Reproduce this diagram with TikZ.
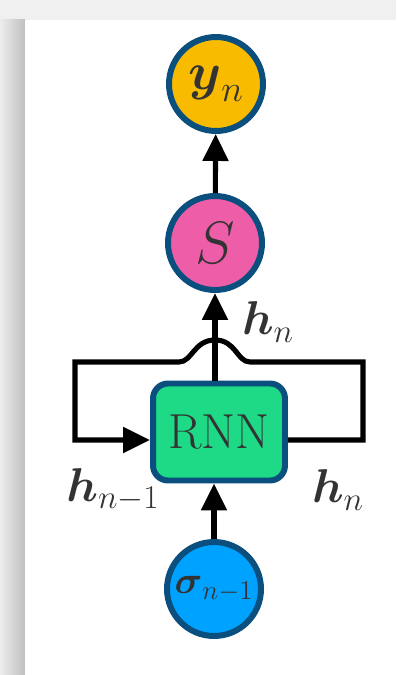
\RequirePackage{fix-cm}
\documentclass[tikz,border=0pt]{standalone}
\usepackage{amsmath}
\usepackage{amssymb}
\usepackage{tikz}
\usetikzlibrary {positioning}
\usetikzlibrary {arrows.meta}

\definecolor{rim}{HTML}{0B4F7F}
\definecolor{outyellow}{HTML}{F8BB00}
\definecolor{softpink}{HTML}{EE5DA8}
\definecolor{cellgreen}{HTML}{1ED985}
\definecolor{inblue}{HTML}{00A2FF}
\definecolor{ink}{HTML}{333333}

\begin{document}
\begin{tikzpicture}
	[x=0.02cm,y=-0.02cm,
	unit/.style={circle,draw=rim,line width=3.4pt,minimum size=1.88cm,inner sep=0pt,text=ink},
	cell/.style={rectangle,rounded corners=0.3cm,draw=rim,line width=3.4pt,fill=cellgreen,minimum width=2.64cm,minimum height=1.94cm,text=ink,font=\fontsize{28}{32}\selectfont},
	lbl/.style={text=ink,font=\fontsize{27}{31}\selectfont},
	wire/.style={line width=2.9pt},
	arrow/.style={wire,-{Triangle[length=0.54cm,width=0.5cm]}}]
	% page with its shadow
	\useasboundingbox (0,0) rectangle (396,675);
	\fill[gray!12] (0,0) rectangle (396,675);
	\shade[left color=gray!14,right color=gray!50] (0,20) rectangle (25,675);
	\fill[white] (25,20) rectangle (396,675);
	% the units
	\node[unit,fill=outyellow,font=\fontsize{30}{34}\selectfont] (yn) at (216,84) {$\boldsymbol{y}_n$};
	\node[unit,fill=softpink,font=\fontsize{34}{38}\selectfont] (s) at (215,243) {$S$};
	\node[cell] (rnn) at (219,432) {RNN};
	\node[unit,fill=inblue,font=\fontsize{22}{26}\selectfont] (sig) at (214,589) {$\boldsymbol{\sigma}_{n-1}$};
	\node[lbl] (hup) at (268,322) {$\boldsymbol{h}_n$};
	\node[lbl] (hprev) at (113,490) {$\boldsymbol{h}_{n-1}$};
	\node[lbl] (hnext) at (338,490) {$\boldsymbol{h}_n$};
	% recurrent loop
	\coordinate (ltop) at (75,362);
	\coordinate (lbot) at (75,440);
	\coordinate (rtop) at (363,362);
	\coordinate (rbot) at (363,440);
	\coordinate (bumpR) at (250,362);
	\coordinate (bumpL) at (179,362);
	\coordinate (bumptop) at (215,340);
	\draw[arrow] (rnn.east |- rbot) -- (rbot) -- (rtop) -- (bumpR) .. controls +(-13,0) and +(21,0) .. (bumptop) .. controls +(-21,0) and +(13,0) .. (bumpL) -- (ltop) -- (lbot) -- (rnn.west |- lbot);
	% forward path
	\draw[arrow] (sig) -- (sig |- rnn.south);
	\draw[arrow] (rnn.north -| s) -- (s);
	\draw[arrow] (s) -- (yn);
\end{tikzpicture}
\end{document}
